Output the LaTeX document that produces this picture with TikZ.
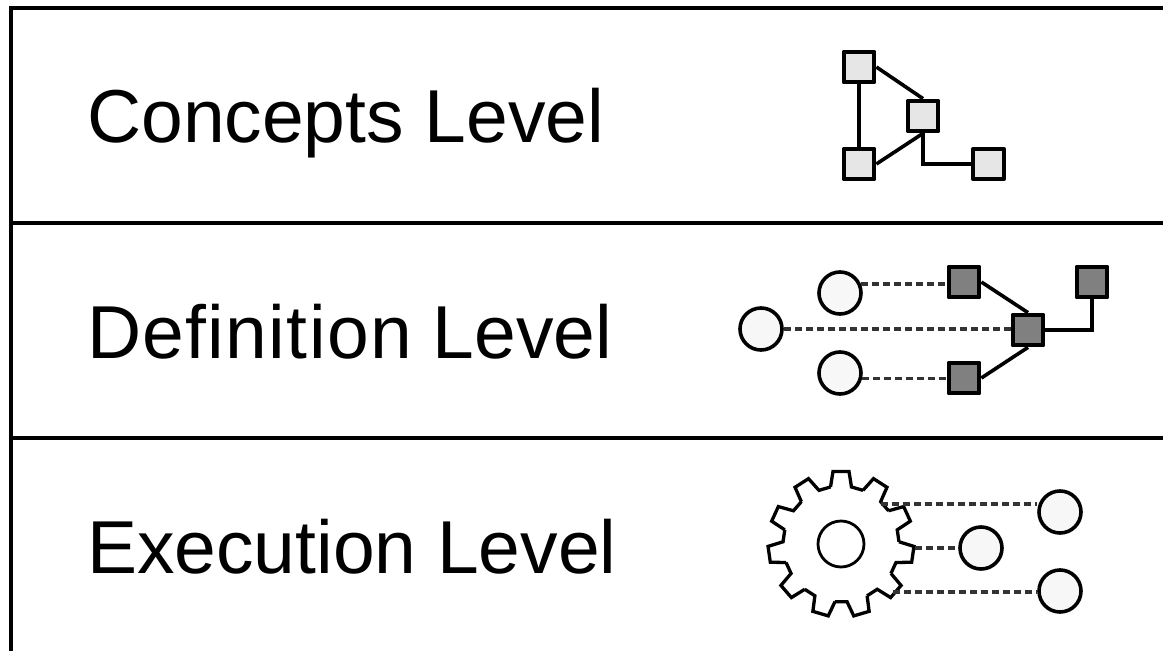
\documentclass[tikz,border=0pt]{standalone}
\usepackage{fontspec}
\setmainfont{Liberation Sans}[Ligatures=NoCommon]
\usetikzlibrary{calc}
\definecolor{lightbox}{HTML}{E6E6E6}
\definecolor{darkbox}{HTML}{808080}
\definecolor{pale}{HTML}{F7F7F7}
\definecolor{dashcol}{HTML}{333333}
\tikzset{
  x=1pt,y=-1pt,
  rule/.style={line width=3.6pt,black},
  label/.style={anchor=base west,inner sep=0pt,font=\fontsize{75}{75}\selectfont},
  sq/.style={draw=black,line width=4.2pt,minimum size=30.5pt,inner sep=0pt,line join=round},
  conceptbox/.style={sq,fill=lightbox},
  defbox/.style={sq,fill=darkbox},
  dot/.style={circle,draw=black,line width=3.6pt,fill=pale,minimum size=42pt,inner sep=0pt},
  link/.style={line width=3.6pt,black},
  dash line/.style={line width=3.8pt,dashcol,dash pattern=on 7pt off 4pt},
  gearline/.style={line width=3.3pt,black,line join=miter,fill=white},
}
\begin{document}
\begin{tikzpicture}
\useasboundingbox (0,0) rectangle (1163,651);
% frame
\coordinate (tl) at (11,8); \coordinate (tr) at (1163,8);
\coordinate (bl) at (11,651);
\coordinate (m1l) at (11,223); \coordinate (m1r) at (1163,223);
\coordinate (m2l) at (11,438); \coordinate (m2r) at (1163,438);
\draw[rule,line join=miter] (bl) -- (tl) -- (tr);
\draw[rule] (m1l) -- (m1r);
\draw[rule] (m2l) -- (m2r);
% labels
\node[label] (lc) at (87,142) {Concepts Level};
\node[label] (ld) at (87,358) {{\addfontfeature{LetterSpace=1.8}Definition} Level};
\node[label] (le) at (87,573) {Execution Level};
% concepts
\node[conceptbox] (a1) at (859,67) {};
\node[conceptbox] (a2) at (923,116) {};
\node[conceptbox] (a3) at (859,164) {};
\node[conceptbox] (a4) at (988.5,164) {};
\draw[link] (a1) -- (a3);
\draw[link] (a1.east) -- (a2.north);
\draw[link] (a3.east) -- (a2.south);
\draw[link] (a2.south) |- (a4.west);
% definition
\node[defbox] (b1) at (964,282) {};
\node[defbox] (b2) at (964,378) {};
\node[defbox] (b3) at (1028,330) {};
\node[defbox] (b4) at (1092,282) {};
\node[dot] (d1) at (761,329) {};
\node[dot] (d2) at (840,293) {};
\node[dot] (d3) at (840,373) {};
\draw[dash line] (d2.23) -- (d2.23 -| b1.west);
\draw[dash line] (d1.east) -- (d1.east -| b3.west);
\draw[dash line] (d3.-14) -- (d3.-14 -| b2.west);
\draw[link] (b1.east) -- (b3.north);
\draw[link] (b2.east) -- (b3.south);
\draw[link] (b3.east) -| (b4.south);
% execution
\draw[gearline]
  foreach \k in {0,...,10}{
    \pgfextra{\pgfmathsetmacro{\ang}{90-\k*360/11}}
    ({841+58*cos(\ang+10.4)},{544-58*sin(\ang+10.4)})
    -- ({841+73*cos(\ang+6.3)},{544-73*sin(\ang+6.3)})
    -- ({841+73*cos(\ang-6.3)},{544-73*sin(\ang-6.3)})
    -- ({841+58*cos(\ang-10.4)},{544-58*sin(\ang-10.4)})
    -- ({841+58*cos(\ang-32.727+10.4)},{544-58*sin(\ang-32.727+10.4)})
  };
\node[circle,draw=black,line width=2.8pt,minimum size=46pt,inner sep=0pt] (hub) at (841,544) {};
\coordinate (g1) at (881,504);
\coordinate (g2) at (915,548);
\coordinate (g3) at (893,592);
\node[dot] (e1) at (1060,512) {};
\node[dot] (e2) at (981,548) {};
\node[dot] (e3) at (1060,591) {};
\draw[dash line] (g1) -- (g1 -| e1.west);
\draw[dash line] (g2) -- (e2.west);
\draw[dash line] (g3) -- (g3 -| e3.west);
\end{tikzpicture}
\end{document}
